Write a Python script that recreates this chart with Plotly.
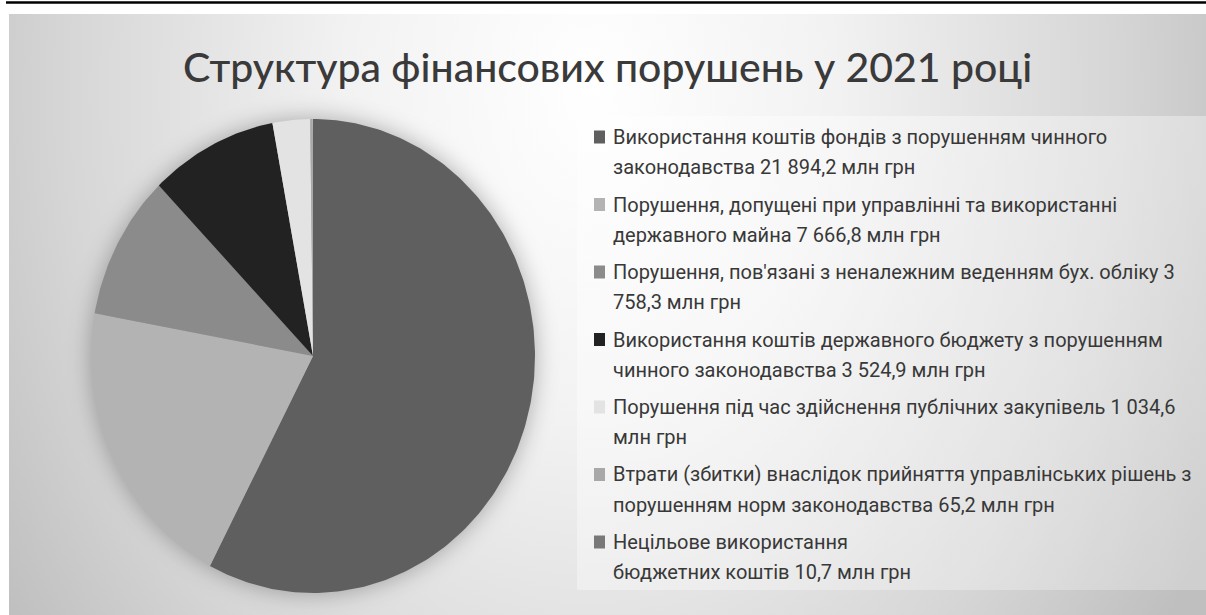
import base64
import math
import plotly.graph_objects as go

# Financial violations in 2021, million UAH
categories = [
    "Використання коштів фондів з порушенням чинного законодавства",
    "Порушення, допущені при управлінні та використанні державного майна",
    "Порушення, пов'язані з неналежним веденням бух. обліку",
    "Використання коштів державного бюджету з порушенням чинного законодавства",
    "Порушення під час здійснення публічних закупівель",
    "Втрати (збитки) внаслідок прийняття управлінських рішень з порушенням норм законодавства",
    "Нецільове використання\nбюджетних коштів",
]
values = [21894.2, 7666.8, 3758.3, 3524.9, 1034.6, 65.2, 10.7]
colors = ["#5f5f5f", "#b3b3b3", "#8b8b8b", "#222222", "#e3e3e3", "#a8a8a8", "#787878"]
unit = "млн грн"
title_text = "Структура фінансових порушень у 2021 році"

W, H = 1206, 615


def fmt_uah(v):
    return f"{v:,.1f}".replace(",", " ").replace(".", ",")


def wrap(text, limit=58):
    lines = []
    for para in text.split("\n"):
        cur = ""
        for word in para.split(" "):
            cand = word if not cur else cur + " " + word
            if len(cand) > limit and cur:
                lines.append(cur)
                cur = word
            else:
                cur = cand
        lines.append(cur)
    return lines


def px_x(x):
    return x / W


def px_y(y):
    return 1 - y / H


# background: soft radial gradient panel, lighter legend box, halo under the pie
svg = f"""<svg xmlns="http://www.w3.org/2000/svg" width="{W}" height="{H}" viewBox="0 0 {W} {H}">
<defs>
<radialGradient id="bg" gradientUnits="userSpaceOnUse" cx="590" cy="90" r="700"
 gradientTransform="translate(590 90) scale(1 1.35) translate(-590 -90)">
<stop offset="0" stop-color="#ffffff"/>
<stop offset="0.35" stop-color="#f2f2f2"/>
<stop offset="0.75" stop-color="#d6d6d6"/>
<stop offset="1" stop-color="#bfbfbf"/>
</radialGradient>
<linearGradient id="lg" x1="0" y1="0" x2="1" y2="1">
<stop offset="0" stop-color="#ffffff" stop-opacity="0.45"/>
<stop offset="1" stop-color="#ffffff" stop-opacity="0.25"/>
</linearGradient>
<filter id="halo" x="-30%" y="-30%" width="160%" height="160%"><feGaussianBlur stdDeviation="11"/></filter>
</defs>
<rect x="0" y="0" width="{W}" height="{H}" fill="#ffffff"/>
<rect x="9" y="14" width="{W-9}" height="{H-14}" fill="url(#bg)"/>
<rect x="577" y="116" width="{W-577}" height="474" fill="url(#lg)"/>
<ellipse cx="313" cy="356" rx="223" ry="238" fill="#000000" fill-opacity="0.28" filter="url(#halo)"/>
</svg>"""
bg_uri = "data:image/svg+xml;base64," + base64.b64encode(svg.encode("utf-8")).decode("ascii")

fig = go.Figure()

# pie wedges on a unit circle; the axis domains stretch it into the ellipse
total = sum(values)
cum = 0.0
for name, v, c in zip(categories, values, colors):
    a0 = cum / total * 2 * math.pi
    a1 = (cum + v) / total * 2 * math.pi
    cum += v
    n = max(3, int(math.degrees(a1 - a0)) + 2)
    ts = [a0 + (a1 - a0) * k / (n - 1) for k in range(n)]
    xs = [0.0] + [math.sin(t) for t in ts] + [0.0]
    ys = [0.0] + [math.cos(t) for t in ts] + [0.0]
    label = name.replace("\n", " ")
    fig.add_trace(go.Scatter(
        x=xs, y=ys, mode="lines", fill="toself", fillcolor=c,
        line=dict(width=0, color=c), showlegend=False, name=label,
        hoveron="fills",
        text=f"{label}: {fmt_uah(v)} {unit} ({v / total:.1%})",
        hoverinfo="text",
    ))

cx, cy, rx, ry = 313, 356, 222, 237
fig.update_xaxes(domain=[px_x(cx - rx), px_x(cx + rx)], range=[-1.0, 1.0],
                 visible=False, fixedrange=True)
fig.update_yaxes(domain=[px_y(cy + ry), px_y(cy - ry)], range=[-1.0, 1.0],
                 visible=False, fixedrange=True)

annotations = [dict(
    text=title_text, x=px_x(607), y=px_y(67), xref="paper", yref="paper",
    xanchor="center", yanchor="middle", showarrow=False,
    font=dict(family="Lato", size=41, color="#3a3a3a", weight=500),
)]

shapes = [dict(type="line", xref="paper", yref="paper",
               x0=px_x(6), x1=1, y0=px_y(2.5), y1=px_y(2.5),
               line=dict(color="#000000", width=2.5))]

# legend: colour key and wrapped caption for each category
for i, (name, v, c) in enumerate(zip(categories, values, colors)):
    row_y = 137 + 67.5 * i
    shapes.append(dict(type="rect", xref="paper", yref="paper",
                       x0=px_x(594), x1=px_x(605), y0=px_y(row_y + 6.5), y1=px_y(row_y - 6.5),
                       fillcolor=c, line=dict(width=0)))
    for j, line in enumerate(wrap(f"{name} {fmt_uah(v)} {unit}")):
        annotations.append(dict(
            text=line, x=px_x(611), y=px_y(row_y + 30 * j), xref="paper", yref="paper",
            xanchor="left", yanchor="middle", showarrow=False,
            font=dict(family="Roboto", size=20, color="#383838"),
        ))

fig.update_layout(
    width=W, height=H, margin=dict(l=0, r=0, t=0, b=0),
    paper_bgcolor="#ffffff", plot_bgcolor="rgba(0,0,0,0)",
    images=[dict(source=bg_uri, xref="paper", yref="paper", x=0, y=1,
                 sizex=1, sizey=1, sizing="stretch", xanchor="left", yanchor="top",
                 layer="below")],
    annotations=annotations, shapes=shapes,
    hovermode="closest",
)

fig.write_html("out.html")
